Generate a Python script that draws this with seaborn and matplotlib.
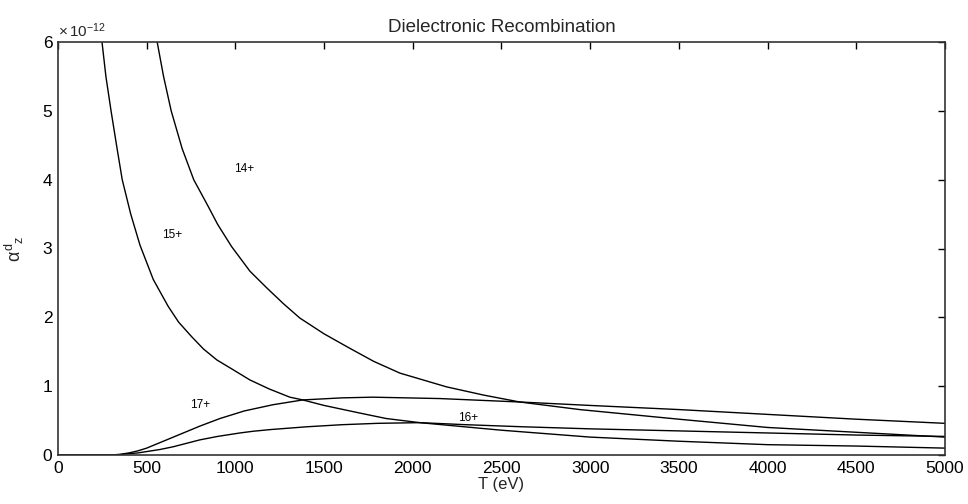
import numpy as np
import pandas as pd
import matplotlib
matplotlib.use("Agg")
import matplotlib.pyplot as plt
import seaborn as sns

# Values in units of 1e-12
t14 = [559, 595, 638, 700, 765, 847, 900, 978, 1082, 1176, 1270, 1363, 1500, 1645, 1780, 1927, 2190, 2400, 2603, 2941, 3500, 4000, 4500, 5000]
v14 = [6.0, 5.5, 5.0, 4.45, 4.0, 3.61, 3.35, 3.03, 2.67, 2.43, 2.20, 1.99, 1.76, 1.55, 1.36, 1.19, 0.99, 0.87, 0.77, 0.66, 0.52, 0.40, 0.33, 0.26]

t15 = [248, 270, 299, 330, 362, 410, 462, 537, 580, 621, 680, 753, 820, 896, 980, 1082, 1190, 1307, 1380, 1500, 1700, 1850, 2039, 2500, 3000, 3500, 4000, 4500, 5000]
v15 = [6.0, 5.5, 5.0, 4.5, 4.0, 3.5, 3.05, 2.55, 2.35, 2.16, 1.93, 1.72, 1.54, 1.38, 1.25, 1.09, 0.96, 0.84, 0.80, 0.72, 0.61, 0.53, 0.47, 0.36, 0.26, 0.20, 0.15, 0.13, 0.10]

t16 = [0, 300, 350, 400, 450, 500, 575, 650, 725, 800, 900, 1025, 1100, 1200, 1403, 1600, 1800, 2039, 2300, 2620, 3000, 3500, 4000, 4500, 5000]
v16 = [0.0, 0.0, 0.005, 0.02, 0.03, 0.05, 0.08, 0.12, 0.17, 0.22, 0.27, 0.32, 0.345, 0.37, 0.41, 0.44, 0.46, 0.47, 0.44, 0.41, 0.38, 0.35, 0.32, 0.29, 0.27]

t17 = [0, 300, 350, 400, 450, 500, 575, 650, 725, 800, 913, 1050, 1211, 1380, 1600, 1775, 2152, 2603, 3000, 3500, 4000, 4500, 5000]
v17 = [0.0, 0.0, 0.01, 0.03, 0.06, 0.10, 0.18, 0.26, 0.34, 0.42, 0.53, 0.64, 0.73, 0.80, 0.83, 0.84, 0.82, 0.77, 0.72, 0.66, 0.59, 0.52, 0.46]

labels = ["14+", "15+", "16+", "17+"]
label_pos_t = [1048, 642, 2310, 800]
label_pos_v = [4.15, 3.20, 0.54, 0.73]

xticks = [0, 500, 1000, 1500, 2000, 2500, 3000, 3500, 4000, 4500, 5000]
yticks = [0, 1, 2, 3, 4, 5, 6]

frames = []
for lab, t, v in zip(labels, [t14, t15, t16, t17], [v14, v15, v16, v17]):
    frames.append(pd.DataFrame({"T": t, "alpha": v, "ion": lab}))
df = pd.concat(frames, ignore_index=True)

sns.set_theme(style="white")
plt.rcParams["font.family"] = ["Liberation Sans", "DejaVu Sans"]
plt.rcParams["mathtext.fontset"] = "custom"
plt.rcParams["mathtext.rm"] = "Liberation Sans"
plt.rcParams["mathtext.it"] = "Liberation Sans"

fig = plt.figure(figsize=(9.68, 5.04), dpi=100)
ax = fig.add_axes([58 / 968, 1 - 455 / 504, (945 - 58) / 968, (455 - 42) / 504])

sns.lineplot(data=df, x="T", y="alpha", units="ion", estimator=None,
             color="black", linewidth=1.0, ax=ax, sort=False)

for lab, tx, vy in zip(labels, label_pos_t, label_pos_v):
    ax.text(tx, vy, lab, fontsize=8.5, ha="center", va="center", color="black")

ax.set_xlim(0, 5000)
ax.set_ylim(0, 6)
ax.set_xticks(xticks)
ax.set_yticks(yticks)
ax.set_xticklabels([str(x) for x in xticks])
ax.set_yticklabels([str(y) for y in yticks])
ax.tick_params(direction="in", length=5, width=1, top=True, right=True,
               labelsize=12.5, colors="black", pad=4)
for s in ax.spines.values():
    s.set_color("#333333")
    s.set_linewidth(1.2)
    s.set_visible(True)

ax.set_xlabel("T (eV)", fontsize=12, labelpad=1)
ax.set_ylabel(r"$\alpha^{d}{}_{z}$", fontsize=13, labelpad=12)
ax.set_title("Dielectronic Recombination", fontsize=13.5, pad=7)
ax.text(0.0, 1.005, r"$\times\,10^{-12}$", transform=ax.transAxes,
        fontsize=11, ha="left", va="bottom")

fig.savefig("out.png", dpi=100)
